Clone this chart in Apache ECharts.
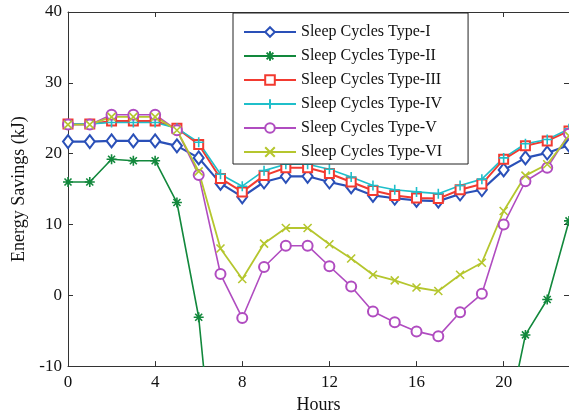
<!DOCTYPE html>
<html>
<head>
<meta charset="utf-8">
<script src="https://cdn.jsdelivr.net/npm/echarts@6/dist/echarts.min.js"></script>
<style>html,body{margin:0;padding:0;background:#fff;}#c{width:569px;height:419px;}</style>
</head>
<body>
<div id="c"></div>
<script>
const hours = [0,1,2,3,4,5,6,7,8,9,10,11,12,13,14,15,16,17,18,19,20,21,22,23];
const typeI   = [21.7,21.7,21.8,21.8,21.8,21.1,19.4,15.8,13.9,16.0,16.8,16.8,16.0,15.3,14.1,13.7,13.4,13.3,14.3,14.9,17.7,19.4,20.1,21.2];
const typeII  = [16.0,16.0,19.2,19.0,19.0,13.1,-3.1,-34.5,-45,-42,-40,-40,-42,-45,-48,-50,-52,-53,-50,-40,-20.3,-5.6,-0.6,10.5];
const typeIII = [24.2,24.2,24.6,24.6,24.6,23.6,21.3,16.5,14.6,16.9,18.0,18.0,17.2,16.0,14.8,14.1,13.75,13.65,14.9,15.7,19.2,21.1,21.8,23.2];
const typeIV  = [24.2,24.2,24.4,24.4,24.4,23.6,21.6,17.1,15.4,17.6,18.5,18.5,17.8,16.7,15.5,14.9,14.6,14.35,15.5,16.4,19.4,21.4,22.0,23.5];
const typeV   = [24.1,24.1,25.5,25.5,25.5,23.3,17.0,3.0,-3.2,4.0,7.0,7.0,4.1,1.25,-2.3,-3.8,-5.1,-5.8,-2.4,0.2,10.0,16.1,18.0,22.8];
const typeVI  = [24.1,24.1,25.2,25.2,25.2,23.3,17.5,6.6,2.3,7.3,9.5,9.5,7.2,5.2,2.9,2.1,1.1,0.6,2.9,4.6,11.9,16.9,18.5,22.5];
const names = ['Sleep Cycles Type-I','Sleep Cycles Type-II','Sleep Cycles Type-III','Sleep Cycles Type-IV','Sleep Cycles Type-V','Sleep Cycles Type-VI'];
const yTicks = [-10,0,10,20,30,40];
const xTicks = [0,4,8,12,16,20];

const FONT = '"Liberation Serif", "Times New Roman", serif';
const pair = arr => hours.map((h,i)=>[h,arr[i]]);
const ASTER = 'path://M5,0L5,10M0,5L10,5M1.5,1.5L8.5,8.5M8.5,1.5L1.5,8.5';
const PLUS = 'path://M5,0L5,10M0,5L10,5';
const CROSS = 'path://M0,0L10,10M10,0L0,10';

function ser(name, data, color, symbol, size, lw, filledPath){
  return {
    name, type:'line', data: pair(data), symbol, symbolSize: size,
    clip:true, animation:false,
    lineStyle:{color, width: lw},
    itemStyle: filledPath ? {color:'rgba(0,0,0,0)', borderColor: color, borderWidth:1.6}
                          : {color, borderColor: color, borderWidth:1.6},
    emphasis:{disabled:true}
  };
}

const chart = echarts.init(document.getElementById('c'), null, {renderer:'canvas'});
const axisLine = {show:true, onZero:false, lineStyle:{color:'#333', width:1}};
chart.setOption({
  backgroundColor:'#fff',
  animation:false,
  grid:{left:68, top:12, right:-2, bottom:47},
  legend:{
    orient:'vertical', left:233, top:13,
    padding:[11,26,4,10], itemGap:8, itemWidth:52, itemHeight:12,
    backgroundColor:'#fff', borderColor:'#222', borderWidth:1,
    textStyle:{fontFamily:FONT, fontSize:16, color:'#111'},
    data:names
  },
  xAxis:[{
    type:'value', min:0, max:23, interval:4, position:'bottom',
    name:'Hours', nameLocation:'middle', nameGap:27,
    nameTextStyle:{fontFamily:FONT, fontSize:18, color:'#111'},
    axisLine, splitLine:{show:false},
    axisTick:{show:true, inside:true, length:5, lineStyle:{color:'#333'}},
    axisLabel:{fontFamily:FONT, fontSize:17, color:'#111', margin:8, showMaxLabel:false,
      formatter: v => xTicks.includes(v) ? String(v) : ''}
  },{
    type:'value', min:0, max:23, interval:4, position:'top',
    axisLine, splitLine:{show:false},
    axisTick:{show:true, inside:true, length:5, lineStyle:{color:'#333'}},
    axisLabel:{show:false}
  }],
  yAxis:[{
    type:'value', min:-10, max:40, interval:10, position:'left',
    name:'Energy Savings (kJ)', nameLocation:'middle', nameGap:31,
    nameTextStyle:{fontFamily:FONT, fontSize:18, color:'#111'},
    axisLine, splitLine:{show:false},
    axisTick:{show:true, inside:true, length:5, lineStyle:{color:'#333'}},
    axisLabel:{fontFamily:FONT, fontSize:17, color:'#111', margin:6,
      formatter: v => yTicks.includes(v) ? String(v) : ''}
  },{
    type:'value', min:-10, max:40, interval:10, position:'right',
    axisLine, splitLine:{show:false},
    axisTick:{show:true, inside:true, length:5, lineStyle:{color:'#333'}},
    axisLabel:{show:false}
  }],
  series:[
    ser(names[0], typeI,  '#2a50b8', 'emptyDiamond', [10,13], 2.2, false),
    ser(names[1], typeII, '#12883c', ASTER, 10, 1.6, true),
    ser(names[2], typeIII,'#f23a30', 'emptyRect', 9, 2.0, false),
    ser(names[3], typeIV, '#1fbfca', PLUS, 10, 1.6, true),
    ser(names[4], typeV,  '#b04cc0', 'emptyCircle', 10, 1.6, false),
    ser(names[5], typeVI, '#b5c62e', CROSS, 8, 1.8, true)
  ]
});
</script>
</body>
</html>
